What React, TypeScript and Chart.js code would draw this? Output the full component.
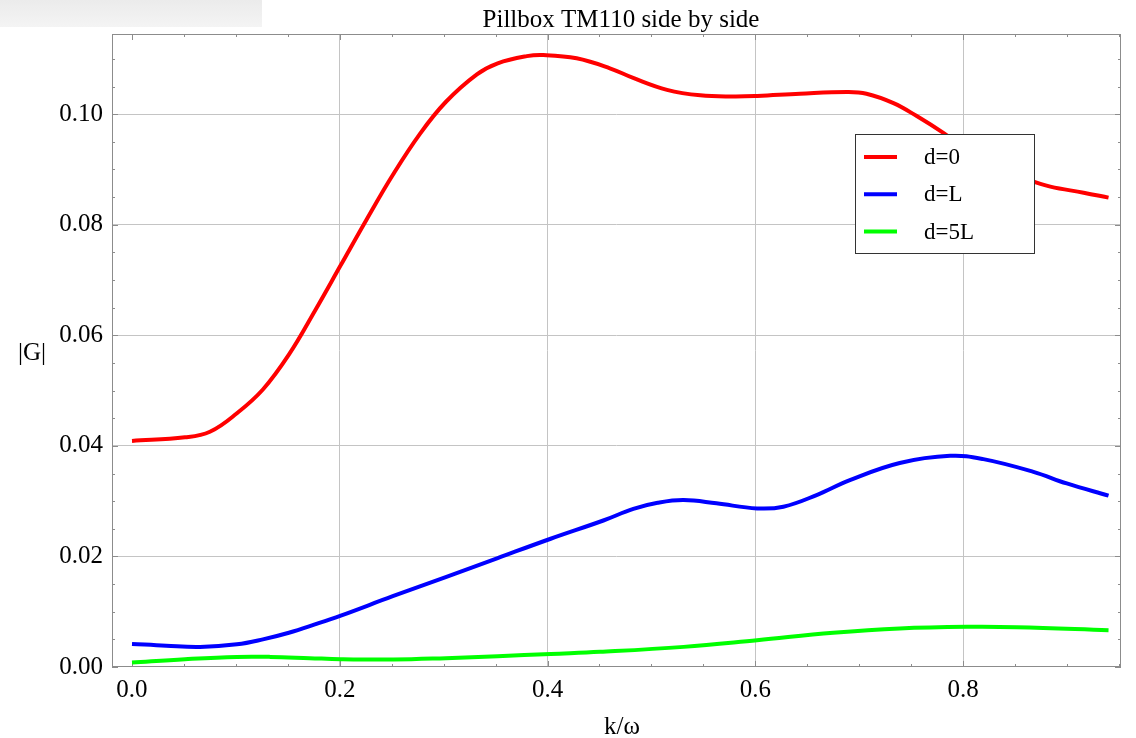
import React, { useEffect, useRef } from "react";
import { Chart, registerables } from "chart.js";

Chart.register(...registerables);

// |G| versus k/omega for a side-by-side TM110 pillbox pair at three separations
const seriesLabels = ["d=0", "d=L", "d=5L"];
const seriesColors = ["#ff0000", "#0000ff", "#00ff00"];

const redX = [0, 0.051, 0.075, 0.101, 0.126, 0.151, 0.176, 0.201, 0.226, 0.251, 0.277, 0.302, 0.332, 0.352, 0.38, 0.396, 0.428, 0.46, 0.483, 0.515, 0.547, 0.579, 0.602, 0.643, 0.688, 0.707, 0.733, 0.755, 0.781, 0.8, 0.83, 0.863, 0.884, 0.916, 0.94];
const redY = [0.0409, 0.04154, 0.04255, 0.0459, 0.0502, 0.0565, 0.0644, 0.0727, 0.081, 0.089, 0.0964, 0.1022, 0.1072, 0.1092, 0.1105, 0.1107, 0.1101, 0.1083, 0.1065, 0.1044, 0.1034, 0.1032, 0.1033, 0.1037, 0.104, 0.1037, 0.102, 0.0997, 0.0966, 0.094, 0.0905, 0.0881, 0.0869, 0.0858, 0.0849];

const blueX = [0, 0.033, 0.0655, 0.101, 0.126, 0.151, 0.176, 0.201, 0.251, 0.302, 0.352, 0.403, 0.4537, 0.4826, 0.506, 0.531, 0.5626, 0.6017, 0.627, 0.659, 0.691, 0.739, 0.7875, 0.8195, 0.8677, 0.8998, 0.94];
const blueY = [0.00418, 0.00385, 0.00364, 0.0041, 0.005, 0.0062, 0.0077, 0.0093, 0.0128, 0.01625, 0.0197, 0.0232, 0.0265, 0.0286, 0.0297, 0.0302, 0.0296, 0.02869, 0.029, 0.0311, 0.0338, 0.0369, 0.0382, 0.0376, 0.0353, 0.0332, 0.031];

const greenX = [0, 0.051, 0.101, 0.133, 0.171, 0.201, 0.2516, 0.302, 0.352, 0.403, 0.4505, 0.531, 0.6017, 0.675, 0.739, 0.8036, 0.8517, 0.94];
const greenY = [0.00081, 0.00141, 0.00183, 0.00183, 0.0016, 0.00141, 0.00135, 0.0016, 0.00195, 0.00237, 0.00274, 0.00364, 0.00485, 0.00618, 0.00696, 0.00726, 0.0072, 0.00666];

const xTickValues = [0, 0.2, 0.4, 0.6, 0.8];
const yTickValues = [0, 0.02, 0.04, 0.06, 0.08, 0.1];

const titleText = "Pillbox TM110 side by side";
const xAxisTitle = "k/\u03c9";
const yAxisTitle = "|G|";

const SERIF = '"Liberation Serif", "Times New Roman", serif';

const toPoints = (xs: number[], ys: number[]) => xs.map((x, i) => ({ x, y: ys[i] }));

// Frame, inward minor/major ticks, titles and the boxed legend
const decorations = {
  id: "decorations",
  beforeDatasetsDraw(chart: any) {
    const { ctx, chartArea: a, scales } = chart;
    const xs = scales.x;
    const ys = scales.y;
    ctx.save();
    ctx.strokeStyle = "#8c8c8c";
    ctx.lineWidth = 1;
    ctx.beginPath();
    for (let i = 0; i <= 19; i++) {
      const px = Math.round(xs.getPixelForValue(i * 0.05)) + 0.5;
      if (px > a.right) continue;
      const len = i % 4 === 0 ? 6 : 3;
      ctx.moveTo(px, a.bottom);
      ctx.lineTo(px, a.bottom - len);
      ctx.moveTo(px, a.top);
      ctx.lineTo(px, a.top + len);
    }
    for (let i = 0; i <= 23; i++) {
      const py = Math.round(ys.getPixelForValue(i * 0.005)) + 0.5;
      if (py < a.top) continue;
      const len = i % 4 === 0 ? 6 : 3;
      ctx.moveTo(a.left, py);
      ctx.lineTo(a.left + len, py);
      ctx.moveTo(a.right, py);
      ctx.lineTo(a.right - len, py);
    }
    ctx.stroke();
    ctx.strokeRect(a.left + 0.5, a.top + 0.5, a.right - a.left - 1, a.bottom - a.top - 1);
    ctx.restore();
  },
  afterDatasetsDraw(chart: any) {
    const { ctx } = chart;
    ctx.save();
    // legend
    const lx = 855, ly = 134, lw = 179, lh = 119;
    ctx.fillStyle = "#ffffff";
    ctx.fillRect(lx, ly, lw, lh);
    ctx.strokeStyle = "#333333";
    ctx.lineWidth = 1;
    ctx.strokeRect(lx + 0.5, ly + 0.5, lw, lh);
    ctx.font = `23px ${SERIF}`;
    ctx.textBaseline = "middle";
    ctx.textAlign = "left";
    chart.data.datasets.forEach((ds: any, i: number) => {
      const ry = 157 + i * 37.3;
      ctx.strokeStyle = ds.borderColor;
      ctx.lineWidth = 4;
      ctx.beginPath();
      ctx.moveTo(864, ry);
      ctx.lineTo(897, ry);
      ctx.stroke();
      ctx.fillStyle = "#000000";
      ctx.fillText(ds.label, 924, ry + 1);
    });
    // titles
    ctx.fillStyle = "#000000";
    ctx.font = `25px ${SERIF}`;
    ctx.textAlign = "center";
    ctx.textBaseline = "alphabetic";
    ctx.fillText(titleText, 621, 27);
    ctx.textBaseline = "middle";
    ctx.fillText(xAxisTitle, 622, 727);
    ctx.fillText(yAxisTitle, 32, 353);
    ctx.restore();
  },
};

export default function App() {
  const canvasRef = useRef<HTMLCanvasElement | null>(null);

  useEffect(() => {
    document.body.style.margin = "0";
    const canvas = canvasRef.current;
    if (!canvas) return;
    const makeDs = (i: number, xs: number[], ys: number[]) => ({
      label: seriesLabels[i],
      data: toPoints(xs, ys),
      borderColor: seriesColors[i],
      backgroundColor: seriesColors[i],
      borderWidth: 4,
      pointRadius: 0,
      fill: false,
      tension: 0.4,
    });
    const gridColor = (ctx: any) => (ctx.tick && ctx.tick.value === 0 ? "rgba(0,0,0,0)" : "#c4c4c4");
    const chart = new Chart(canvas, {
      type: "line",
      data: {
        datasets: [
          makeDs(0, redX, redY),
          makeDs(1, blueX, blueY),
          makeDs(2, greenX, greenY),
        ],
      },
      options: {
        animation: false,
        responsive: false,
        devicePixelRatio: 1,
        layout: { padding: { top: 34, left: 0, right: 15, bottom: 0 } },
        plugins: { legend: { display: false }, tooltip: { enabled: false }, title: { display: false } },
        scales: {
          x: {
            type: "linear",
            min: -0.01925,
            max: 0.952,
            afterBuildTicks: (s: any) => {
              s.ticks = xTickValues.map((v) => ({ value: v }));
            },
            afterFit: (s: any) => {
              s.height = 71;
            },
            grid: { color: gridColor, lineWidth: 1, drawTicks: false },
            border: { display: false },
            ticks: {
              padding: 8,
              color: "#000000",
              font: { family: SERIF, size: 25 },
              callback: (v: any) => Number(v).toFixed(1),
              maxRotation: 0,
              autoSkip: false,
            },
          },
          y: {
            type: "linear",
            min: 0,
            max: 0.1145,
            afterBuildTicks: (s: any) => {
              s.ticks = yTickValues.map((v) => ({ value: v }));
            },
            afterFit: (s: any) => {
              s.width = 112;
            },
            grid: { color: gridColor, lineWidth: 1, drawTicks: false },
            border: { display: false },
            ticks: {
              padding: 9,
              color: "#000000",
              font: { family: SERIF, size: 25 },
              callback: (v: any) => Number(v).toFixed(2),
              autoSkip: false,
            },
          },
        },
      },
      plugins: [decorations],
    });
    return () => chart.destroy();
  }, []);

  return (
    <div style={{ position: "relative", width: 1136, height: 738, background: "#ffffff" }}>
      <div
        style={{
          position: "absolute",
          left: 0,
          top: 0,
          width: 262,
          height: 27,
          background: "linear-gradient(to bottom, #ebebeb, #f4f4f4)",
        }}
      />
      <canvas ref={canvasRef} width={1136} height={738} style={{ position: "absolute", left: 0, top: 0 }} />
    </div>
  );
}
